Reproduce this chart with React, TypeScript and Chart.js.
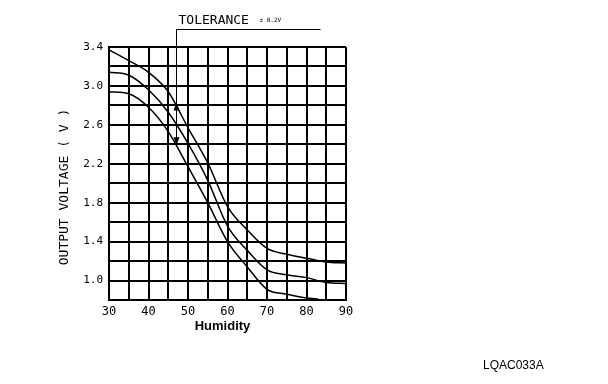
import React, { useEffect, useRef } from "react";
import { Chart, registerables } from "chart.js";

Chart.register(...registerables);

// ---- data ----
const humidity = [30, 35, 40, 45, 50, 55, 60, 65, 70, 75, 80, 85, 90];
const upperVoltage = [3.37, 3.26, 3.14, 2.94, 2.57, 2.21, 1.76, 1.52, 1.33, 1.27, 1.23, 1.19, 1.18];
const middleVoltage = [3.14, 3.11, 2.96, 2.73, 2.41, 2.03, 1.56, 1.31, 1.11, 1.06, 1.03, 0.98, 0.97];
const lowerHumidity = [30, 35, 40, 45, 50, 55, 60, 65, 70, 75, 80, 83];
const lowerVoltage = [2.94, 2.92, 2.78, 2.53, 2.17, 1.8, 1.4, 1.14, 0.91, 0.86, 0.82, 0.81];

const xTickLabels = [30, 40, 50, 60, 70, 80, 90];
const yTickLabels = [1.0, 1.4, 1.8, 2.2, 2.6, 3.0, 3.4];

const toleranceHumidity = 47;
const toleranceCenter = 2.6;
const toleranceDelta = 0.2;
const toleranceTitle = "TOLERANCE";
const toleranceNote = "± 0.2V";
const xTitle = "Humidity";
const yTitle = "OUTPUT VOLTAGE ( V )";
const figureCode = "LQAC033A";

const MONO = "'DejaVu Sans Mono', 'Liberation Mono', monospace";
const SANS = "'Liberation Sans', Arial, sans-serif";

const toPairs = (xs: number[], ys: number[]) => xs.map((x, i) => ({ x, y: ys[i] }));

const annotationPlugin = {
  id: "annotations",
  afterDraw(chart: any) {
    const { ctx, chartArea } = chart;
    const xs = chart.scales.x;
    const ys = chart.scales.y;
    ctx.save();
    ctx.strokeStyle = "#000";
    ctx.fillStyle = "#000";

    // tolerance marker
    const tx = Math.round(xs.getPixelForValue(toleranceHumidity)) + 0.5;
    const topY = ys.getPixelForValue(toleranceCenter + toleranceDelta);
    const botY = ys.getPixelForValue(toleranceCenter - toleranceDelta);
    const lineY = chartArea.top - 17.5;
    ctx.lineWidth = 1;
    ctx.beginPath();
    ctx.moveTo(tx, botY);
    ctx.lineTo(tx, lineY);
    ctx.lineTo(tx + 144, lineY);
    ctx.stroke();
    // arrow heads
    ctx.beginPath();
    ctx.moveTo(tx, topY - 3);
    ctx.lineTo(tx - 3, topY + 5);
    ctx.lineTo(tx + 3, topY + 5);
    ctx.closePath();
    ctx.fill();
    ctx.beginPath();
    ctx.moveTo(tx, botY + 1);
    ctx.lineTo(tx - 3, botY - 7);
    ctx.lineTo(tx + 3, botY - 7);
    ctx.closePath();
    ctx.fill();

    ctx.textAlign = "left";
    ctx.textBaseline = "alphabetic";
    ctx.font = `13px ${MONO}`;
    ctx.fillText(toleranceTitle, tx + 2, lineY - 6);
    ctx.font = `6px ${MONO}`;
    ctx.fillText(toleranceNote, tx + 83, lineY - 8);

    // axis titles
    ctx.font = `bold 13px ${SANS}`;
    ctx.textAlign = "center";
    ctx.textBaseline = "middle";
    ctx.fillText(xTitle, (chartArea.left + chartArea.right) / 2 - 5, chartArea.bottom + 26);

    ctx.save();
    ctx.translate(chartArea.left - 44, chartArea.top + 140);
    ctx.rotate(-Math.PI / 2);
    ctx.font = `13px ${MONO}`;
    ctx.fillText(yTitle, 0, 0);
    ctx.restore();

    // figure code
    ctx.font = `12px ${SANS}`;
    ctx.textAlign = "left";
    ctx.fillText(figureCode, 483, 366);
    ctx.restore();
  },
};

export default function App() {
  const ref = useRef<HTMLCanvasElement | null>(null);

  useEffect(() => {
    if (!ref.current) return;
    const line = (data: { x: number; y: number }[]) => ({
      data,
      borderColor: "#000",
      borderWidth: 1.5,
      pointRadius: 0,
      fill: false,
      cubicInterpolationMode: "monotone" as const,
    });
    const chart = new Chart(ref.current, {
      type: "line",
      data: {
        datasets: [
          line(toPairs(humidity, upperVoltage)),
          line(toPairs(humidity, middleVoltage)),
          line(toPairs(lowerHumidity, lowerVoltage)),
        ],
      },
      options: {
        responsive: false,
        animation: false,
        events: [],
        layout: { padding: { left: 0, top: 47, right: 262, bottom: 0 } },
        plugins: { legend: { display: false }, tooltip: { enabled: false }, title: { display: false } },
        scales: {
          x: {
            type: "linear",
            min: 30,
            max: 90,
            afterFit: (s: any) => {
              s.height = 84;
            },
            grid: { color: "#000", lineWidth: 2, drawTicks: false },
            border: { color: "#000", width: 2 },
            ticks: {
              stepSize: 5,
              autoSkip: false,
              maxRotation: 0,
              padding: 5,
              color: "#000",
              font: { family: MONO, size: 12 },
              callback: (v: any) => (xTickLabels.includes(Number(v)) ? String(v) : ""),
            },
          },
          y: {
            type: "linear",
            min: 0.8,
            max: 3.4,
            afterFit: (s: any) => {
              s.width = 109;
            },
            grid: { color: "#000", lineWidth: 2, drawTicks: false },
            border: { color: "#000", width: 2 },
            ticks: {
              stepSize: 0.2,
              autoSkip: false,
              padding: 6,
              color: "#000",
              font: { family: MONO, size: 11 },
              callback: (v: any) =>
                yTickLabels.some((t) => Math.abs(t - Number(v)) < 1e-6) ? Number(v).toFixed(1) : "",
            },
          },
        },
      },
      plugins: [annotationPlugin],
    });
    return () => chart.destroy();
  }, []);

  return (
    <div style={{ position: "fixed", left: 0, top: 0, width: 608, height: 384, background: "#fff" }}>
      <canvas ref={ref} width={608} height={384} style={{ width: 608, height: 384 }} />
    </div>
  );
}
